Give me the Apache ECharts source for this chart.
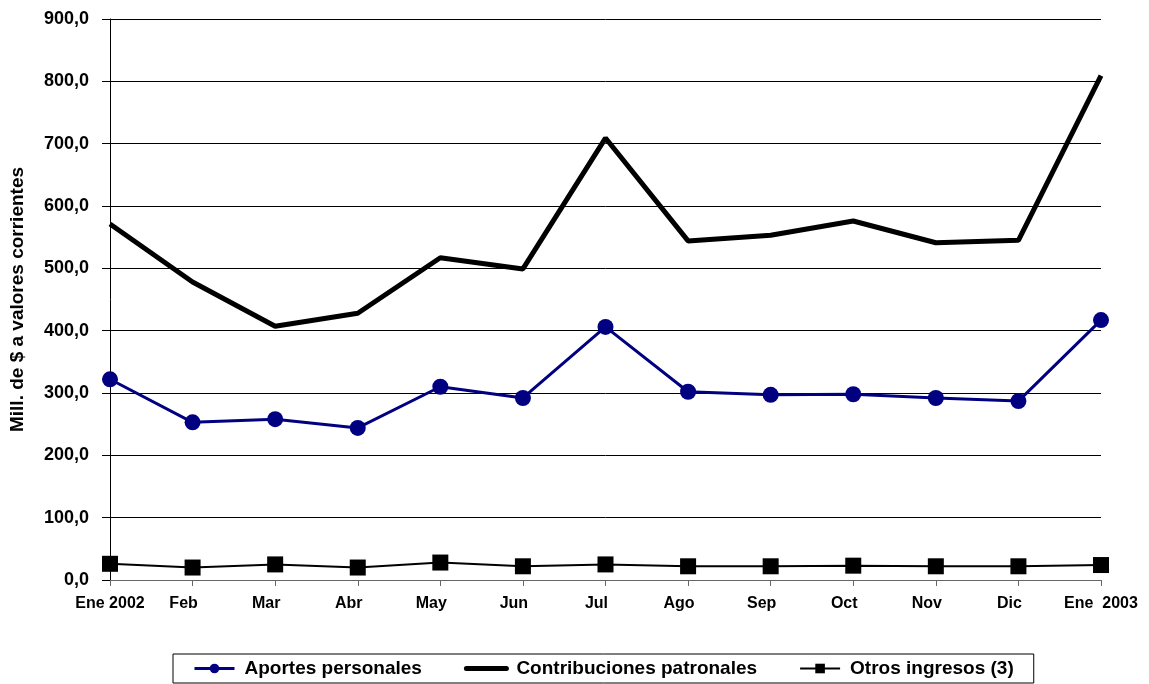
<!DOCTYPE html>
<html>
<head>
<meta charset="utf-8">
<script src="https://cdn.jsdelivr.net/npm/echarts@6/dist/echarts.min.js"></script>
<style>
  html, body { margin: 0; padding: 0; background: #ffffff; }
  #chart { width: 1149px; height: 684px; }
</style>
</head>
<body>
<div id="chart"></div>
<script>
// Monthly revenue, millions of current pesos
const months = ['Ene 2002', 'Feb', 'Mar', 'Abr', 'May', 'Jun', 'Jul', 'Ago', 'Sep', 'Oct', 'Nov', 'Dic', 'Ene  2003'];
const aportesPersonales = [322, 253, 258, 244, 310, 292, 406, 302, 297, 298, 292, 287, 417];
const contribucionesPatronales = [571, 478, 407, 428, 517, 499, 709, 544, 553, 576, 541, 545, 809];
const otrosIngresos = [26, 20, 25, 20, 28, 22, 25, 22, 22, 23, 22, 22, 24];
const yTicks = { min: 0, max: 900, step: 100 };

const font = 'Liberation Sans, Arial, sans-serif';
const chart = echarts.init(document.getElementById('chart'), null, { renderer: 'canvas' });

chart.setOption({
  animation: false,
  backgroundColor: '#ffffff',
  grid: { left: 109, right: 48, top: 19, bottom: 104, containLabel: false },
  legend: {
    left: 173,
    bottom: 1,
    itemWidth: 40,
    itemHeight: 12,
    itemGap: 42,
    padding: [5, 20, 5, 20],
    borderColor: '#000000',
    borderWidth: 1,
    textStyle: { fontFamily: font, fontWeight: 'bold', fontSize: 19, color: '#000000', padding: [0, 0, 0, 5] },
    data: [
      { name: 'Aportes personales', lineStyle: { width: 3, color: '#000080' } },
      { name: 'Contribuciones patronales', lineStyle: { width: 5, color: '#000000', cap: 'round' },
        itemStyle: { color: 'rgba(0,0,0,0)', borderWidth: 0, opacity: 0 } },
      { name: 'Otros ingresos (3)', lineStyle: { width: 2, color: '#000000' } }
    ]
  },
  xAxis: {
    type: 'category',
    data: months,
    boundaryGap: false,
    axisLine: { lineStyle: { color: '#666666', width: 1 } },
    axisTick: { show: true, length: 6, lineStyle: { color: '#666666' } },
    axisLabel: {
      interval: 0,
      margin: 16,
      color: '#000000',
      fontFamily: font,
      fontWeight: 'bold',
      fontSize: 16,
      formatter: function (v, i) {
        if (i === 0 || i === months.length - 1) return '{e|' + v + '}';
        return '{m|' + v + '}';
      },
      rich: {
        e: { fontFamily: font, fontWeight: 'bold', fontSize: 16, color: '#000000' },
        m: { fontFamily: font, fontWeight: 'bold', fontSize: 16, color: '#000000', padding: [0, 18, 0, 0] }
      }
    },
    splitLine: { show: false }
  },
  yAxis: {
    type: 'value',
    min: yTicks.min,
    max: yTicks.max,
    interval: yTicks.step,
    name: 'Mill. de $ a valores corrientes',
    nameLocation: 'middle',
    nameGap: 83,
    nameTextStyle: { fontFamily: font, fontWeight: 'bold', fontSize: 19, color: '#000000' },
    axisLine: { show: true, lineStyle: { color: '#000000', width: 1 } },
    axisTick: { show: true, length: 8, lineStyle: { color: '#000000' } },
    axisLabel: {
      margin: 21,
      color: '#000000',
      fontFamily: font,
      fontWeight: 'bold',
      fontSize: 18,
      formatter: function (v) { return v.toFixed(1).replace('.', ','); }
    },
    splitLine: { show: true, lineStyle: { color: '#000000', width: 1 } }
  },
  series: [
    {
      name: 'Aportes personales',
      type: 'line',
      data: aportesPersonales,
      symbol: 'circle',
      symbolSize: 16,
      lineStyle: { color: '#000080', width: 3 },
      itemStyle: { color: '#000080' },
      z: 3
    },
    {
      name: 'Contribuciones patronales',
      type: 'line',
      data: contribucionesPatronales,
      symbol: 'none',
      showSymbol: false,
      lineStyle: { color: '#000000', width: 5 },
      itemStyle: { color: '#000000' },
      z: 2
    },
    {
      name: 'Otros ingresos (3)',
      type: 'line',
      data: otrosIngresos,
      symbol: 'rect',
      symbolSize: 16,
      lineStyle: { color: '#000000', width: 2 },
      itemStyle: { color: '#000000' },
      z: 4
    }
  ]
});
</script>
</body>
</html>
